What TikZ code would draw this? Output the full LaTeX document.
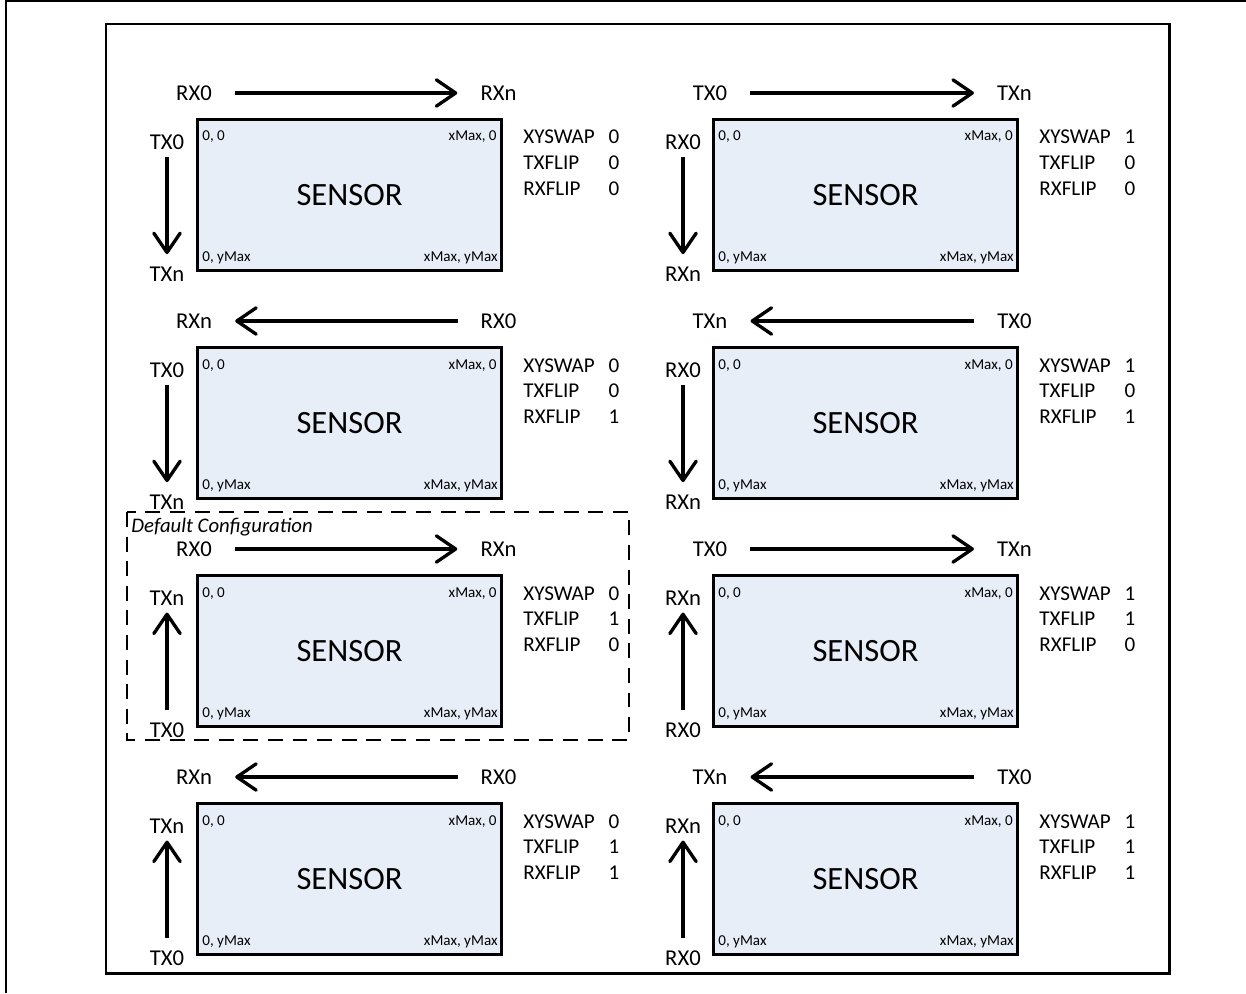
\documentclass[tikz,border=0pt]{standalone}
\usepackage{fontspec}
\setmainfont{Carlito}
\usetikzlibrary{arrows.meta}

\definecolor{sensorfill}{RGB}{232,238,248}

\tikzset{
  sensor/.style={draw, line width=1.7pt, fill=sensorfill, inner sep=0pt,
    minimum width=172.9pt, minimum height=86.2pt,
    font=\fontsize{18.5}{21}\selectfont},
  corner/.style={inner sep=0pt, font=\fontsize{8.6}{10}\selectfont},
  lbl/.style={inner sep=0pt, text height=8.2pt, text depth=0pt,
    font=\fontsize{12.9}{15}\selectfont},
  param/.style={inner sep=0pt, font=\fontsize{12}{14}\selectfont},
  hflow/.style={line width=1.9pt, shorten <=13pt, shorten >=13pt},
  vflow/.style={line width=1.9pt, shorten <=4pt, shorten >=7pt},
  fwd/.style={-{Straight Barb[length=11pt,width=15pt,round]}},
  bwd/.style={{Straight Barb[length=11pt,width=15pt,round]}-},
  frame/.style={line width=1.7pt},
  defbox/.style={line width=1.3pt, dash pattern=on 8.5pt off 5.5pt}
}

\begin{document}
\begin{tikzpicture}[x=0.02cm, y=-0.02cm]
\useasboundingbox (0,0) rectangle (1246,993);

% Outer page edge and frame
\draw[line width=1.5pt] (1246,1) -- (6,1) -- (6,993);
\draw[frame] (106,24) rectangle (1169,973);

% One cell per orientation: col/row, horizontal labels + direction,
% vertical labels + direction, XYSWAP/TXFLIP/RXFLIP
\foreach \c/\r/\hl/\hr/\hd/\vt/\vb/\vd/\xy/\tx/\rx in {
  0/0/RX0/RXn/fwd/TX0/TXn/fwd/0/0/0,
  0/1/RXn/RX0/bwd/TX0/TXn/fwd/0/0/1,
  0/2/RX0/RXn/fwd/TXn/TX0/bwd/0/1/0,
  0/3/RXn/RX0/bwd/TXn/TX0/bwd/0/1/1,
  1/0/TX0/TXn/fwd/RX0/RXn/fwd/1/0/0,
  1/1/TXn/TX0/bwd/RX0/RXn/fwd/1/0/1,
  1/2/TX0/TXn/fwd/RXn/RX0/bwd/1/1/0,
  1/3/TXn/TX0/bwd/RXn/RX0/bwd/1/1/1}
{
  \begin{scope}[shift={(197+516*\c,119+228*\r)}]
    % sensor and its corners
    \node[sensor] (s\c\r) at (152.5,76) {SENSOR};
    \node[corner, anchor=base west] (tl\c\r) at (5,22) {0, 0};
    \node[corner, anchor=base east] (tr\c\r) at (300,22) {xMax, 0};
    \node[corner, anchor=base west] (bl\c\r) at (5,142) {0, yMax};
    \node[corner, anchor=base east] (br\c\r) at (301,142) {xMax, yMax};

    % horizontal axis
    \node[lbl] (hl\c\r) at (-3,-26) {\hl};
    \node[lbl] (hr\c\r) at (301.5,-26) {\hr};
    \draw[hflow,\hd] (hl\c\r) -- (hr\c\r);

    % vertical axis
    \node[lbl] (vt\c\r) at (-30,23) {\vt};
    \node[lbl] (vb\c\r) at (-30,155) {\vb};
    \draw[vflow,\vd] (vt\c\r) -- (vb\c\r);

    % register settings
    \foreach \k/\pname/\pval in {0/XYSWAP/\xy,1/TXFLIP/\tx,2/RXFLIP/\rx} {
      \node[param, anchor=base west] (pn\c\r\k) at (326,25+25.5*\k) {\pname};
      \node[param, anchor=base] (pv\c\r\k) at (417,25+25.5*\k) {\pval};
    }
  \end{scope}
}

% Default configuration
\draw[defbox] (127,512) rectangle (629,740);
\node[inner sep=0pt, anchor=base west, font=\itshape\fontsize{11.8}{14}\selectfont]
  (deflabel) at (131,532) {Default Configuration};

\end{tikzpicture}
\end{document}
